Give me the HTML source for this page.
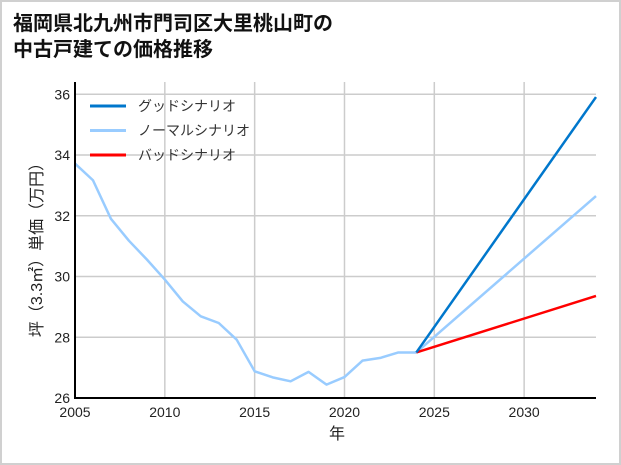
<!DOCTYPE html>
<html><head><meta charset="utf-8"><style>
body{margin:0;background:#fff;}
#wrap{position:relative;width:617px;height:461px;border:2px solid #d0d0d0;background:#fff;overflow:hidden;}
svg text{font-family:"Liberation Sans","Noto Sans CJK JP",sans-serif;}
</style></head><body>
<div id="wrap">
<svg id="chart" width="617" height="461">
<text x="11" y="28" font-size="20" font-weight="bold" fill="#111">福岡県北九州市門司区大里桃山町の</text>
<text x="11" y="54" font-size="20" font-weight="bold" fill="#111">中古戸建ての価格推移</text>
<g id="grid"></g><g id="lines"></g><g id="axes"></g>
</svg></div>
<script>
const years=[2005,2006,2007,2008,2009,2010,2011,2012,2013,2014,2015,2016,2017,2018,2019,2020,2021,2022,2023,2024];
const history=[33.72,33.17,31.9,31.18,30.56,29.9,29.18,28.69,28.47,27.92,26.88,26.68,26.55,26.86,26.44,26.69,27.23,27.32,27.5,27.5];
const projYears=[2024,2034];
const good=[27.5,35.91];
const normal=[27.5,32.65];
const bad=[27.5,29.36];
const xTicks=[2005,2010,2015,2020,2025,2030];
const yTicks=[26,28,30,32,34,36];
const X=v=>73+(v-2005)*(521/29);
const Y=v=>396-(v-26)*30.37;
const NS='http://www.w3.org/2000/svg';
function mk(tag,attrs,parent){const e=document.createElementNS(NS,tag);for(const k in attrs)e.setAttribute(k,attrs[k]);document.getElementById(parent).appendChild(e);return e;}
const pTop=80,pRight=594,pBottom=396,pLeft=73;
xTicks.forEach(t=>{const l=mk('line',{x1:X(t),x2:X(t),y1:pTop,y2:pBottom,stroke:'#cccccc','stroke-width':1.5},'grid');


const tx=mk('text',{x:X(t),y:415,'font-size':14,'text-anchor':'middle',fill:'#222'},'axes');tx.textContent=t;

});
yTicks.forEach(t=>{const l=mk('line',{x1:pLeft,x2:pRight,y1:Y(t),y2:Y(t),stroke:'#cccccc','stroke-width':1.5},'grid');


const tx=mk('text',{x:68,y:Y(t)+5,'font-size':14,'text-anchor':'end',fill:'#222'},'axes');tx.textContent=t;

});
function line(xs,ys,color,name){const p=mk('polyline',{points:xs.map((x,i)=>X(x)+','+Y(ys[i])).join(' '),fill:'none',stroke:color,'stroke-width':2.5,'stroke-linejoin':'round'},'lines');

}
line(years,history,'#99ccff','history-line');
line(projYears,normal,'#99ccff','normal-scenario-line');
line(projYears,bad,'#ff0000','bad-scenario-line');
line(projYears,good,'#0077cc','good-scenario-line');
const ax=mk('path',{d:`M${pLeft},${pTop} V${pBottom} H${pRight}`,fill:'none',stroke:'#000','stroke-width':2},'axes');


const xl=mk('text',{x:335,y:437,'font-size':16,'text-anchor':'middle',fill:'#222'},'axes');xl.textContent='年';


const yl=mk('text',{x:0,y:0,'font-size':16,'text-anchor':'middle',fill:'#222',transform:'translate(40,244) rotate(-90)'},'axes');yl.textContent='坪（3.3㎡）単価（万円）';


const leg=[['グッドシナリオ','#0077cc'],['ノーマルシナリオ','#99ccff'],['バッドシナリオ','#ff0000']];
leg.forEach((d,i)=>{const y=104+i*24.5;
const l=mk('line',{x1:88,x2:124,y1:y,y2:y,stroke:d[1],'stroke-width':3},'axes');


const t=mk('text',{x:136,y:y+5,'font-size':14,fill:'#333'},'axes');t.textContent=d[0];

});
</script>
</body></html>
